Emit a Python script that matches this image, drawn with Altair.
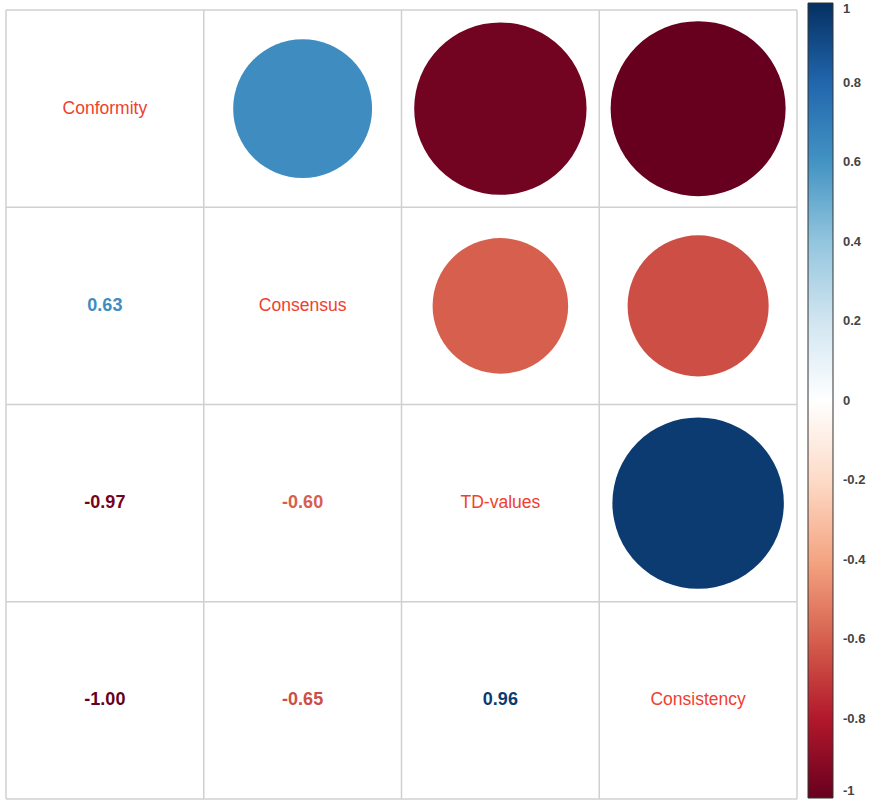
import altair as alt
import pandas as pd

variables = ["Conformity", "Consensus", "TD-values", "Consistency"]
corr = [
    [1.00, 0.63, -0.97, -1.00],
    [0.63, 1.00, -0.60, -0.65],
    [-0.97, -0.60, 1.00, 0.96],
    [-1.00, -0.65, 0.96, 1.00],
]
palette = ["#67001F", "#B2182B", "#D6604D", "#F4A582", "#FDDBC7", "#FFFFFF",
           "#D1E5F0", "#92C5DE", "#4393C3", "#2166AC", "#053061"]
palette_domain = [-1.0, -0.8, -0.6, -0.4, -0.2, 0.0, 0.2, 0.4, 0.6, 0.8, 1.0]
legend_values = [-1, -0.8, -0.6, -0.4, -0.2, 0, 0.2, 0.4, 0.6, 0.8, 1]
grid_positions = [0, 1, 2, 3, 4]

rows = []
for i, rname in enumerate(variables):
    for j, cname in enumerate(variables):
        v = corr[i][j]
        kind = "circle" if j > i else ("text" if j < i else "label")
        rows.append({"x": j + 0.5, "y": i + 0.5, "r": v, "absr": abs(v),
                     "kind": kind, "name": rname, "lab": f"{v:.2f}"})
df = pd.DataFrame(rows)
grid = pd.DataFrame({"p": grid_positions, "lo": [0] * 5, "hi": [4] * 5})

W, H = 791, 789
xs = alt.Scale(domain=[0, 4], nice=False, zero=False)
ys = alt.Scale(domain=[0, 4], nice=False, zero=False, reverse=True)
color_scale = alt.Scale(domain=palette_domain, range=palette, interpolate="rgb")
diameter = 175
size_scale = alt.Scale(domain=[0, 1], range=[0, diameter * diameter], zero=True)

legend = alt.Legend(
    title=None, orient="none", legendX=802, legendY=-7, direction="vertical",
    gradientLength=795, gradientThickness=25, values=legend_values,
    gradientStrokeColor="#333333", gradientStrokeWidth=1,
    labelFontSize=13, labelFontWeight="bold", labelColor="#444444",
    labelOffset=10, labelFont="Liberation Sans",
    labelOverlap=False,
    labelExpr="(datum.value < 0 ? '-' : '') + format(abs(datum.value), '~g')",
)

vrules = alt.Chart(grid).mark_rule(color="#D0D0D0", strokeWidth=1.5).encode(
    x=alt.X("p:Q", scale=xs, axis=None),
    y=alt.Y("lo:Q", scale=ys, axis=None),
    y2="hi:Q",
)
hrules = alt.Chart(grid).mark_rule(color="#D0D0D0", strokeWidth=1.5).encode(
    y=alt.Y("p:Q", scale=ys, axis=None),
    x=alt.X("lo:Q", scale=xs, axis=None),
    x2="hi:Q",
)

circles = alt.Chart(df).transform_filter(alt.datum.kind == "circle").mark_circle(
    opacity=1, strokeWidth=0
).encode(
    x=alt.X("x:Q", scale=xs, axis=None),
    y=alt.Y("y:Q", scale=ys, axis=None),
    size=alt.Size("absr:Q", scale=size_scale, legend=None),
    color=alt.Color("r:Q", scale=color_scale, legend=legend),
)

numbers = alt.Chart(df).transform_filter(alt.datum.kind == "text").mark_text(
    font="Liberation Sans", fontSize=18, fontWeight="bold"
).encode(
    x=alt.X("x:Q", scale=xs, axis=None),
    y=alt.Y("y:Q", scale=ys, axis=None),
    text="lab:N",
    color=alt.Color("r:Q", scale=color_scale, legend=legend),
)

labels = alt.Chart(df).transform_filter(alt.datum.kind == "label").mark_text(
    font="Liberation Sans", fontSize=17.5, color="#F0402E"
).encode(
    x=alt.X("x:Q", scale=xs, axis=None),
    y=alt.Y("y:Q", scale=ys, axis=None),
    text="name:N",
)

chart = alt.layer(vrules, hrules, circles, numbers, labels).properties(
    width=W, height=H,
    autosize=alt.AutoSizeParams(type="none"),
    padding={"left": 6, "top": 10, "right": 79, "bottom": 10},
    background="white",
).configure_view(stroke=None)

chart.save("out.html", embed_options={"renderer": "svg", "actions": False})
